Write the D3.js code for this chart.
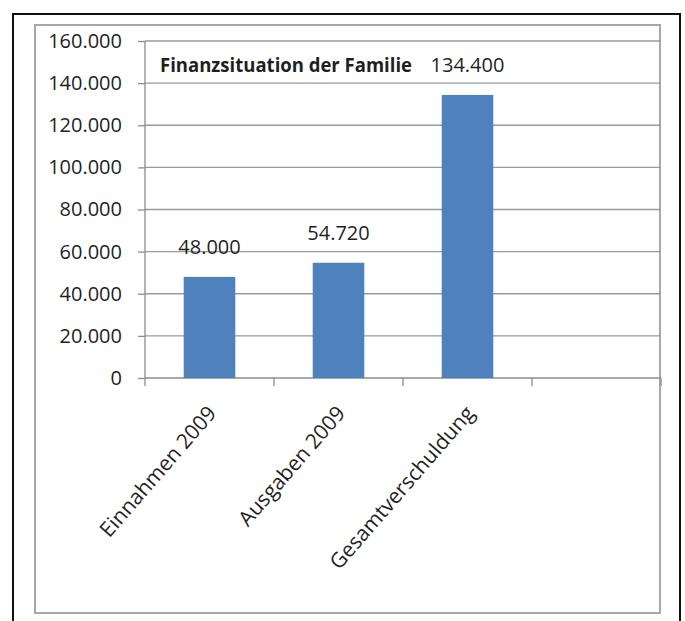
<!DOCTYPE html>
<html>
<head>
<meta charset="utf-8">
<script src="https://cdn.jsdelivr.net/npm/d3@7"></script>
<style>
  body { margin: 0; background: #fff; }
  text { font-family: "Open Sans", sans-serif; fill: #1f1f1f; }
</style>
</head>
<body>
<div id="chart"></div>
<script>
// chart data
var categories = ["Einnahmen 2009", "Ausgaben 2009", "Gesamtverschuldung", ""];
var values = [48000, 54720, 134400, null];
var yTicks = [0, 20000, 40000, 60000, 80000, 100000, 120000, 140000, 160000];
var title = "Finanzsituation der Familie";

var svgWidth = 685;
var svgHeight = 621;

var margin = { top: 41, right: 24, bottom: 243, left: 145 };
var chartWidth = svgWidth - margin.left - margin.right;
var chartHeight = svgHeight - margin.top - margin.bottom;

// german number format: 134.400
var de = d3.formatLocale({ decimal: ",", thousands: ".", grouping: [3], currency: ["", " €"] });
var fmt = de.format(",");

var svg = d3.select("#chart")
  .append("svg")
  .attr("width", svgWidth)
  .attr("height", svgHeight);

// frames
svg.append("rect")
  .attr("x", 13).attr("y", 14)
  .attr("width", 667).attr("height", svgHeight)
  .attr("fill", "none")
  .attr("stroke", "#111")
  .attr("stroke-width", 2);

svg.append("rect")
  .attr("x", 35).attr("y", 25)
  .attr("width", 625).attr("height", 588)
  .attr("fill", "none")
  .attr("stroke", "#a8a8a8")
  .attr("stroke-width", 2);

var chartGroup = svg.append("g")
  .attr("transform", `translate(${margin.left}, ${margin.top})`);

var xBandScale = d3.scaleBand()
  .domain(categories)
  .range([0, chartWidth])
  .paddingInner(0)
  .paddingOuter(0);

var yLinearScale = d3.scaleLinear()
  .domain([0, 160000])
  .range([chartHeight, 0]);

// gridlines
chartGroup.selectAll(".grid")
  .data(yTicks.slice(1))
  .enter()
  .append("line")
  .attr("x1", 0)
  .attr("x2", chartWidth)
  .attr("y1", d => yLinearScale(d))
  .attr("y2", d => yLinearScale(d))
  .attr("stroke", "#9a9a9a")
  .attr("stroke-width", 1.3);

// y axis
var leftAxis = d3.axisLeft(yLinearScale)
  .tickValues(yTicks)
  .tickSize(7)
  .tickPadding(16)
  .tickFormat(fmt);

var yAxis = chartGroup.append("g").call(leftAxis);
yAxis.selectAll("path, line").attr("stroke", "#8c8c8c").attr("stroke-width", 1.3);
yAxis.select(".domain").attr("d", `M0,0V${chartHeight}`);
yAxis.selectAll("text")
  .attr("font-size", 20)
  .attr("font-family", "Open Sans")
  .attr("fill", "#1f1f1f");

// x axis line + boundary ticks
chartGroup.append("line")
  .attr("x1", 0).attr("x2", chartWidth)
  .attr("y1", chartHeight).attr("y2", chartHeight)
  .attr("stroke", "#8c8c8c")
  .attr("stroke-width", 1.3);

var bounds = categories.map(c => xBandScale(c)).concat([chartWidth]);
chartGroup.selectAll(".xtick")
  .data(bounds)
  .enter()
  .append("line")
  .attr("x1", d => d).attr("x2", d => d)
  .attr("y1", chartHeight).attr("y2", chartHeight + 8)
  .attr("stroke", "#8c8c8c")
  .attr("stroke-width", 1.3);

// bars
var barData = categories.map((c, i) => ({ cat: c, val: values[i] })).filter(d => d.val != null);
var barWidth = xBandScale.bandwidth() * 0.4;

chartGroup.selectAll(".bar")
  .data(barData)
  .enter()
  .append("rect")
  .attr("x", d => xBandScale(d.cat) + (xBandScale.bandwidth() - barWidth) / 2)
  .attr("y", d => yLinearScale(d.val))
  .attr("width", barWidth)
  .attr("height", d => chartHeight - yLinearScale(d.val))
  .attr("fill", "#4f81bd");

// value labels
chartGroup.selectAll(".vlabel")
  .data(barData)
  .enter()
  .append("text")
  .attr("x", d => xBandScale(d.cat) + xBandScale.bandwidth() / 2)
  .attr("y", d => yLinearScale(d.val) - 23)
  .attr("text-anchor", "middle")
  .attr("font-size", 20)
  .text(d => fmt(d.val));

// category labels, rotated
chartGroup.selectAll(".xlabel")
  .data(categories.filter(c => c !== ""))
  .enter()
  .append("text")
  .attr("text-anchor", "end")
  .attr("font-size", 21)
  .attr("transform", d => `translate(${xBandScale(d) + xBandScale.bandwidth() / 2 + 8}, ${chartHeight + 36}) rotate(-49)`)
  .text(d => d);

// title
chartGroup.append("text")
  .attr("x", 15)
  .attr("y", 31)
  .attr("font-size", 19)
  .attr("font-weight", "bold")
  .attr("textLength", 252)
  .attr("lengthAdjust", "spacingAndGlyphs")
  .text(title);
</script>
</body>
</html>
